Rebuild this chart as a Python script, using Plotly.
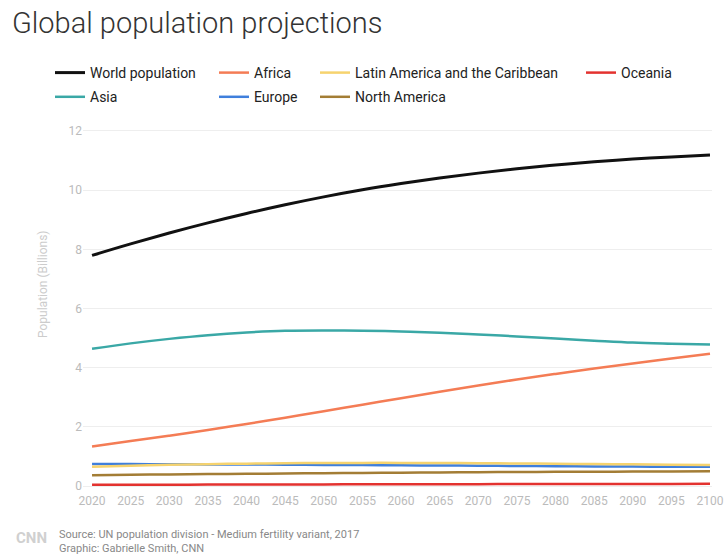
import plotly.graph_objects as go

years = list(range(2020, 2101, 5))
world = [7.795, 8.184, 8.551, 8.893, 9.210, 9.504, 9.772, 10.012, 10.222, 10.409, 10.575, 10.722, 10.849, 10.958, 11.049, 11.124, 11.184]
asia = [4.641, 4.822, 4.974, 5.099, 5.189, 5.245, 5.257, 5.250, 5.223, 5.181, 5.125, 5.058, 4.986, 4.915, 4.848, 4.810, 4.780]
africa = [1.340, 1.522, 1.704, 1.894, 2.100, 2.310, 2.528, 2.750, 2.970, 3.190, 3.402, 3.600, 3.790, 3.970, 4.140, 4.310, 4.468]
europe = [0.743, 0.743, 0.739, 0.733, 0.728, 0.722, 0.716, 0.710, 0.703, 0.696, 0.689, 0.680, 0.672, 0.665, 0.659, 0.655, 0.653]
latam = [0.654, 0.690, 0.718, 0.741, 0.758, 0.772, 0.780, 0.784, 0.784, 0.780, 0.773, 0.765, 0.755, 0.745, 0.734, 0.722, 0.712]
namer = [0.369, 0.382, 0.395, 0.405, 0.414, 0.425, 0.435, 0.444, 0.452, 0.460, 0.468, 0.476, 0.483, 0.487, 0.490, 0.495, 0.499]
oceania = [0.043, 0.045, 0.048, 0.050, 0.053, 0.055, 0.057, 0.060, 0.062, 0.064, 0.066, 0.068, 0.069, 0.071, 0.072, 0.074, 0.075]

series = [
    ("World population", world, "#111111", 3, "legend"),
    ("Asia", asia, "#3aa8a6", 2.5, "legend"),
    ("Africa", africa, "#f47c55", 2.5, "legend2"),
    ("Europe", europe, "#3f7fdc", 2.5, "legend2"),
    ("Latin America and the Caribbean", latam, "#f6d36e", 2.5, "legend3"),
    ("North America", namer, "#a37d35", 2.5, "legend3"),
    ("Oceania", oceania, "#e3322f", 2.5, "legend4"),
]

W, H = 725, 554
L, R, T, B = 83, 13, 128, 62
pw, ph = W - L - R, H - T - B

fig = go.Figure()
for name, vals, color, width, lg in series:
    fig.add_trace(go.Scatter(
        x=years, y=vals, name=name, mode="lines",
        line=dict(color=color, width=width, shape="spline"),
        legend=lg, legendgroup=name,
    ))

font_family = "Roboto, Liberation Sans, sans-serif"
legend_common = dict(
    orientation="v", xref="container", yref="container",
    xanchor="left", yanchor="top", y=1 - 57 / H,
    font=dict(family=font_family, size=14, color="#222222"),
    bgcolor="rgba(0,0,0,0)", tracegroupgap=3, borderwidth=0,
)

fig.update_layout(
    width=W, height=H,
    margin=dict(l=L, r=R, t=T, b=B, autoexpand=False),
    paper_bgcolor="white", plot_bgcolor="white",
    font=dict(family=font_family),
    title=dict(
        text="Global population projections",
        x=12 / W, xref="container", xanchor="left",
        y=1 - 23 / H, yref="container", yanchor="middle",
        font=dict(family=font_family, size=29, color="#333333", weight=300),
    ),
    showlegend=True,
    legend=dict(legend_common, x=50 / W),
    legend2=dict(legend_common, x=214 / W),
    legend3=dict(legend_common, x=315 / W),
    legend4=dict(legend_common, x=581 / W),
    xaxis=dict(
        range=[2018.83, 2100.26], tickvals=years,
        showgrid=False, zeroline=False, showline=False,
        tickfont=dict(family=font_family, size=12, color="#bbbbbb"),
        ticks="",
    ),
    yaxis=dict(
        range=[-0.2, 12.1], tickvals=[0, 2, 4, 6, 8, 10, 12],
        showgrid=True, gridcolor="#eeeeee", gridwidth=1,
        zeroline=False, showline=False, ticks="",
        tickfont=dict(family=font_family, size=12, color="#bbbbbb"),
    ),
)

annotations = [
    dict(text="Population (Billions)", textangle=-90,
         x=(43 - L) / pw, y=(H - B - 284) / ph, xref="paper", yref="paper",
         showarrow=False, font=dict(family=font_family, size=12, color="#cccccc"),
         xanchor="center", yanchor="middle"),
    dict(text="<b>CNN</b>",
         x=(14 - L) / pw, y=(H - B - 538) / ph, xref="paper", yref="paper",
         showarrow=False, font=dict(family=font_family, size=15, color="#d0d0d0"),
         xanchor="left", yanchor="middle"),
    dict(text="Source: UN population division - Medium fertility variant, 2017<br>Graphic: Gabrielle Smith, CNN",
         x=(57 - L) / pw, y=(H - B - 541) / ph, xref="paper", yref="paper",
         showarrow=False, align="left",
         font=dict(family=font_family, size=11, color="#888888"),
         xanchor="left", yanchor="middle"),
]
fig.update_layout(annotations=annotations)

fig.write_html("out.html")
